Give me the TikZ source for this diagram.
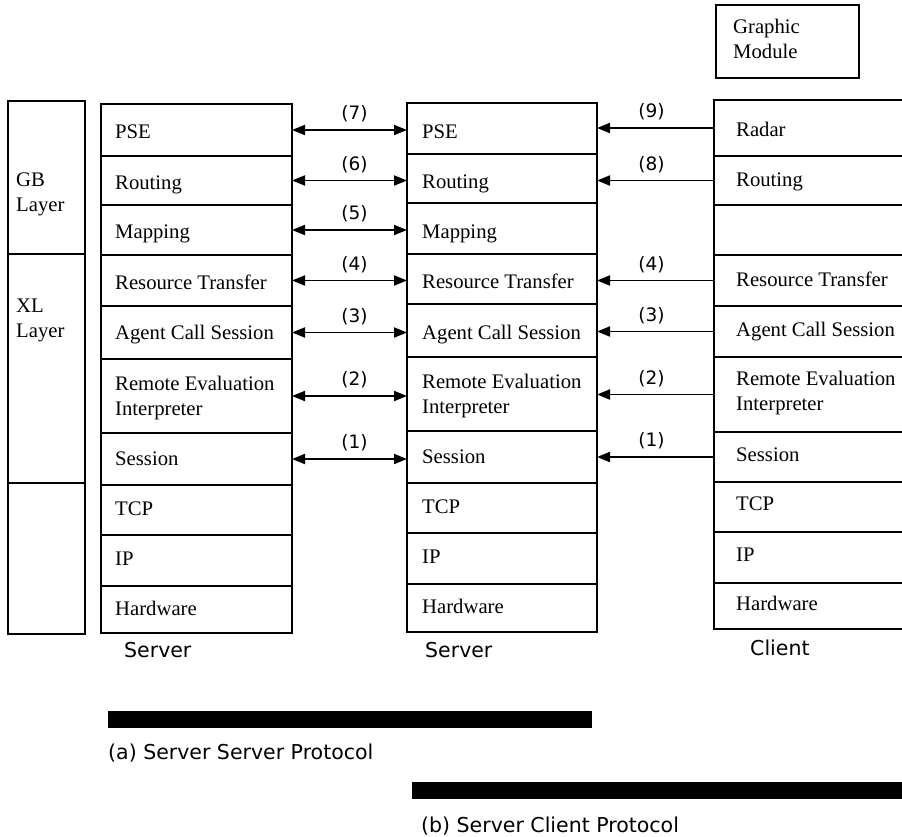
\documentclass[tikz,border=0pt]{standalone}
\usepackage{fontspec}
\setmainfont{Liberation Serif}
\newfontfamily\capfont{DejaVu Sans}
\usetikzlibrary{arrows.meta}

\tikzset{
  frame/.style={draw, line width=1.6pt, rectangle, inner sep=0pt, outer sep=0pt, anchor=north west},
  celltext/.style={inner sep=0pt, anchor=base west, align=left,
    font=\fontsize{20.7}{24.6}\selectfont},
  captext/.style={inner sep=0pt, anchor=base west, font=\capfont\fontsize{20.5}{24.6}\selectfont},
  numtext/.style={inner sep=0pt, font=\capfont\fontsize{18.5}{21}\selectfont},
  dblarrow/.style={line width=1.9pt, {Triangle[length=13pt,width=10pt]}-{Triangle[length=13pt,width=10pt]}},
  sglarrow/.style={line width=1.9pt, -{Triangle[length=13pt,width=10pt]}}
}

\begin{document}
\begin{tikzpicture}[x=1pt, y=-1pt]
\useasboundingbox (0,0) rectangle (902,836);
\clip (0,0) rectangle (902,836);

% layer column on the far left (multi-line texts are placed by their last baseline)
\node[frame, minimum width=77pt, minimum height=153pt] (gb) at (8,101) {};
\node[frame, minimum width=77pt, minimum height=229pt] (xl) at (8,254) {};
\node[frame, minimum width=77pt, minimum height=151pt] (low) at (8,483) {};
\node[celltext] (gb-t) at (16,211) {GB\\Layer};
\node[celltext] (xl-t) at (16,337) {XL\\Layer};

% left server stack
\foreach \nm/\ya/\yb/\yt/\txt in {
    pse/104/156/138/PSE,
    rout/156/205/189/Routing,
    map/205/255/238/Mapping,
    rt/255/306/289/Resource Transfer,
    acs/306/359/339/Agent Call Session,
    rei/359/433/415/{Remote Evaluation\\Interpreter},
    ses/433/485/465/Session,
    tcp/485/535/515/TCP,
    ip/535/586/565/IP,
    hw/586/633/615/Hardware}{
  \node[frame, minimum width=191pt, minimum height={(\yb-\ya)*1pt}] (L-\nm) at (101,\ya) {};
  \node[celltext] (L-\nm-t) at (115,\yt) {\txt};
}

% middle server stack
\foreach \nm/\ya/\yb/\yt/\txt in {
    pse/103/154/138/PSE,
    rout/154/203/188/Routing,
    map/203/254/238/Mapping,
    rt/254/304/288/Resource Transfer,
    acs/304/357/339/Agent Call Session,
    rei/357/431/413/{Remote Evaluation\\Interpreter},
    ses/431/483/463/Session,
    tcp/483/533/513/TCP,
    ip/533/584/563/IP,
    hw/584/632/613/Hardware}{
  \node[frame, minimum width=190pt, minimum height={(\yb-\ya)*1pt}] (M-\nm) at (407,\ya) {};
  \node[celltext] (M-\nm-t) at (422,\yt) {\txt};
}

% client stack, open to the right
\foreach \nm/\ya/\yb/\yt/\txt in {
    rad/100/156/136/Radar,
    rout/156/205/186/Routing,
    emp/205/255/230/{},
    rt/255/306/286/Resource Transfer,
    acs/306/357/336/Agent Call Session,
    rei/357/432/410/{Remote Evaluation\\Interpreter},
    ses/432/482/461/Session,
    tcp/482/532/510/TCP,
    ip/532/583/561/IP,
    hw/583/629/610/Hardware}{
  \node[frame, minimum width=210pt, minimum height={(\yb-\ya)*1pt}] (C-\nm) at (714,\ya) {};
  \node[celltext] (C-\nm-t) at (736,\yt) {\txt};
}

% graphic module
\node[frame, minimum width=143pt, minimum height=73pt] (gm) at (716,5) {};
\node[celltext] (gm-t) at (733,58) {Graphic\\Module};

% server to server connectors
\foreach \nm/\lab in {pse/(7), rout/(6), map/(5), rt/(4), acs/(3), rei/(2), ses/(1)}{
  \draw[dblarrow] (L-\nm.east) -- (L-\nm.east -| M-\nm.west)
    node[numtext, midway, anchor=south, yshift=7pt, xshift=5pt] {\lab};
}

% client to server connectors
\foreach \cn/\mn/\lab in {rad/pse/(9), rout/rout/(8), rt/rt/(4), acs/acs/(3), rei/rei/(2), ses/ses/(1)}{
  \draw[sglarrow] (C-\cn.west) -- (C-\cn.west -| M-\mn.east)
    node[numtext, midway, anchor=south, yshift=7pt, xshift=-4pt] {\lab};
}

% stack captions
\node[captext] (cap-l) at (124,657) {Server};
\node[captext] (cap-m) at (425,657) {Server};
\node[captext] (cap-c) at (750,655) {Client};

% protocol legends
\fill (108,711) rectangle (592,728);
\node[captext] (leg-a) at (108,759) {(a) Server Server Protocol};
\fill (412,782) rectangle (910,799);
\node[captext] (leg-b) at (421,832) {(b) Server Client Protocol};
\end{tikzpicture}
\end{document}
